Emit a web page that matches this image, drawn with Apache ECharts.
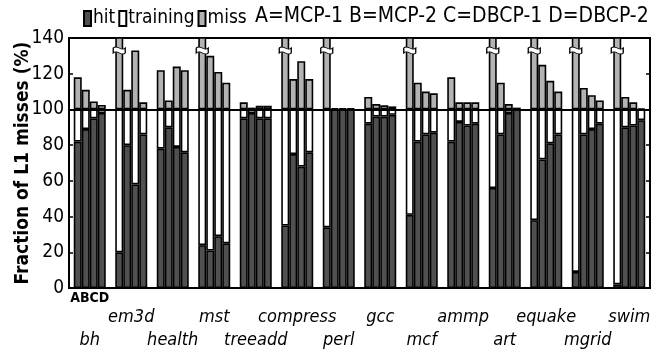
<!DOCTYPE html>
<html>
<head>
<meta charset="utf-8">
<script src="https://cdn.jsdelivr.net/npm/echarts@6/dist/echarts.min.js"></script>
<style>
html,body{margin:0;padding:0;background:#fff;}
#chart{width:666px;height:350px;}
</style>
</head>
<body>
<div id="chart"></div>
<script>
var categories = ['bh','em3d','health','mst','treeadd','compress','perl','gcc','mcf','ammp','art','equake','mgrid','swim'];
var configs = ['A','B','C','D'];
var yTicks = [0,20,40,60,80,100,120,140];

var hitA = [82, 20, 78, 24, 95, 35, 34, 92, 41, 82, 56, 38, 9, 2];
var hitB = [89, 80, 90, 21, 98, 75, 100, 96, 82, 93, 86, 72, 86, 90];
var hitC = [95, 58, 79, 29, 95, 68, 100, 96, 86, 91, 98, 81, 89, 91];
var hitD = [98, 86, 76, 25, 95, 76, 100, 97, 87, 92, 100, 86, 92, 94];

var trainA = [18, 80, 22, 76, 5, 65, 66, 8, 59, 18, 44, 62, 91, 98];
var trainB = [11, 20, 10, 79, 2, 25, 0, 4, 18, 7, 14, 28, 14, 10];
var trainC = [5, 42, 21, 71, 5, 32, 0, 4, 14, 9, 2, 19, 11, 9];
var trainD = [2, 14, 24, 75, 5, 24, 0, 3, 13, 8, 0, 14, 8, 6];

var missA = [18, 60, 22, 60, 4, 60, 60, 7, 60, 18, 60, 60, 60, 60];
var missB = [11, 11, 5, 30, 1, 17, 0.6, 3, 15, 4, 15, 25, 12, 7];
var missC = [4.5, 33, 24, 21, 2, 27, 0.6, 2.3, 10, 4, 3, 16, 8, 4];
var missD = [2.5, 4, 22, 15, 2, 17, 0.6, 1.7, 9, 4, 1, 10, 5, 0.5];

var breakCats = ['em3d','mst','compress','perl','mcf','art','equake','mgrid','swim'];
var breakLevel = 133;
var refLine = 100;

var FONT = '"Liberation Sans Narrow","Arial Narrow","DejaVu Sans Condensed","Liberation Sans",sans-serif';
var COL_HIT = '#505050', COL_TRAIN = '#ffffff', COL_MISS = '#b3b3b3';

var hits = [hitA, hitB, hitC, hitD];
var trains = [trainA, trainB, trainC, trainD];
var misses = [missA, missB, missC, missD];

function barSeries(name, data, stack, color) {
  return {
    name: name, type: 'bar', stack: stack, data: data,
    barWidth: 8, barGap: '0%',
    itemStyle: { color: color, borderColor: '#000', borderWidth: 1.6 },
    emphasis: { disabled: true },
    animation: false
  };
}

var series = [];
configs.forEach(function (c, i) {
  series.push(barSeries('hit', hits[i], c, COL_HIT));
  series.push(barSeries('training', trains[i], c, COL_TRAIN));
  var ms = barSeries('miss', misses[i], c, COL_MISS);
  if (c === 'A') {
    ms.markPoint = {
      symbol: 'path://M0,3 C4,0 8,6 12,3 L12,7 C8,10 4,4 0,7 Z',
      symbolSize: [12, 7],
      itemStyle: { color: '#fff', borderColor: '#000', borderWidth: 1 },
      label: { show: false },
      silent: true,
      animation: false,
      data: breakCats.map(function (n) { return { coord: [n, breakLevel] }; })
    };
  }
  series.push(ms);
});
series.push({
  type: 'line', data: [], z: 20, silent: true,
  markLine: {
    symbol: 'none', silent: true, animation: false,
    label: { show: false },
    lineStyle: { color: '#000', width: 2, type: 'solid' },
    data: [{ yAxis: refLine }]
  }
});

var chart = echarts.init(document.getElementById('chart'), null, { renderer: 'canvas' });
chart.setOption({
  backgroundColor: '#fff',
  animation: false,
  textStyle: { fontFamily: FONT },
  title: {
    text: 'A=MCP-1 B=MCP-2 C=DBCP-1 D=DBCP-2',
    left: 255, top: 6, padding: 0,
    textStyle: { fontFamily: FONT, fontSize: 21, fontWeight: 'normal', color: '#000' }
  },
  legend: {
    data: ['hit', 'training', 'miss'],
    left: 83, top: 9, padding: 0,
    itemWidth: 7, itemHeight: 15, itemGap: 3,
    icon: 'rect',
    selectedMode: false,
    textStyle: { fontFamily: FONT, fontSize: 19, color: '#000', padding: [0, 0, 0, -3] }
  },
  grid: { left: 69, right: 16, top: 38, bottom: 62, show: true, borderColor: '#000', borderWidth: 2, backgroundColor: 'transparent' },
  xAxis: {
    type: 'category', data: categories,
    axisLine: { show: true, lineStyle: { color: '#000', width: 2 } },
    axisTick: { show: false },
    axisLabel: {
      interval: 0, margin: 3, color: '#000',
      formatter: function (v, i) {
        if (i === 0) return '{ab|ABCD}\n{n| }\n{n|' + v + '}';
        if (i % 2 === 1) return '{ab| }\n{n|' + v + '}\n{n| }';
        return '{ab| }\n{n| }\n{n|' + v + '}';
      },
      rich: {
        ab: { fontFamily: FONT, fontSize: 14, fontWeight: 'bold', lineHeight: 15, color: '#000' },
        n: { fontFamily: FONT, fontSize: 18, fontStyle: 'italic', lineHeight: 23, color: '#000' }
      }
    }
  },
  yAxis: [{
    type: 'value', min: 0, max: 140, interval: 20,
    name: 'Fraction of L1 misses (%)', nameLocation: 'middle', nameGap: 36,
    nameMoveOverlap: false,
    nameTextStyle: { fontFamily: FONT, fontSize: 19, fontWeight: 'bold', color: '#000' },
    axisLine: { show: true, lineStyle: { color: '#000', width: 2 } },
    axisTick: { show: true, inside: true, length: 4, lineStyle: { color: '#000', width: 1.5 } },
    axisLabel: { fontFamily: FONT, fontSize: 19, color: '#000', margin: 5,
      formatter: function (v) { return yTicks.indexOf(v) >= 0 ? String(v) : ''; } },
    splitLine: { show: false }
  }, {
    type: 'value', min: 0, max: 140, interval: 20, position: 'right',
    axisLine: { show: true, lineStyle: { color: '#000', width: 2 } },
    axisTick: { show: true, inside: true, length: 4, lineStyle: { color: '#000', width: 1.5 } },
    axisLabel: { show: false },
    splitLine: { show: false }
  }],
  series: series
});
</script>
</body>
</html>
